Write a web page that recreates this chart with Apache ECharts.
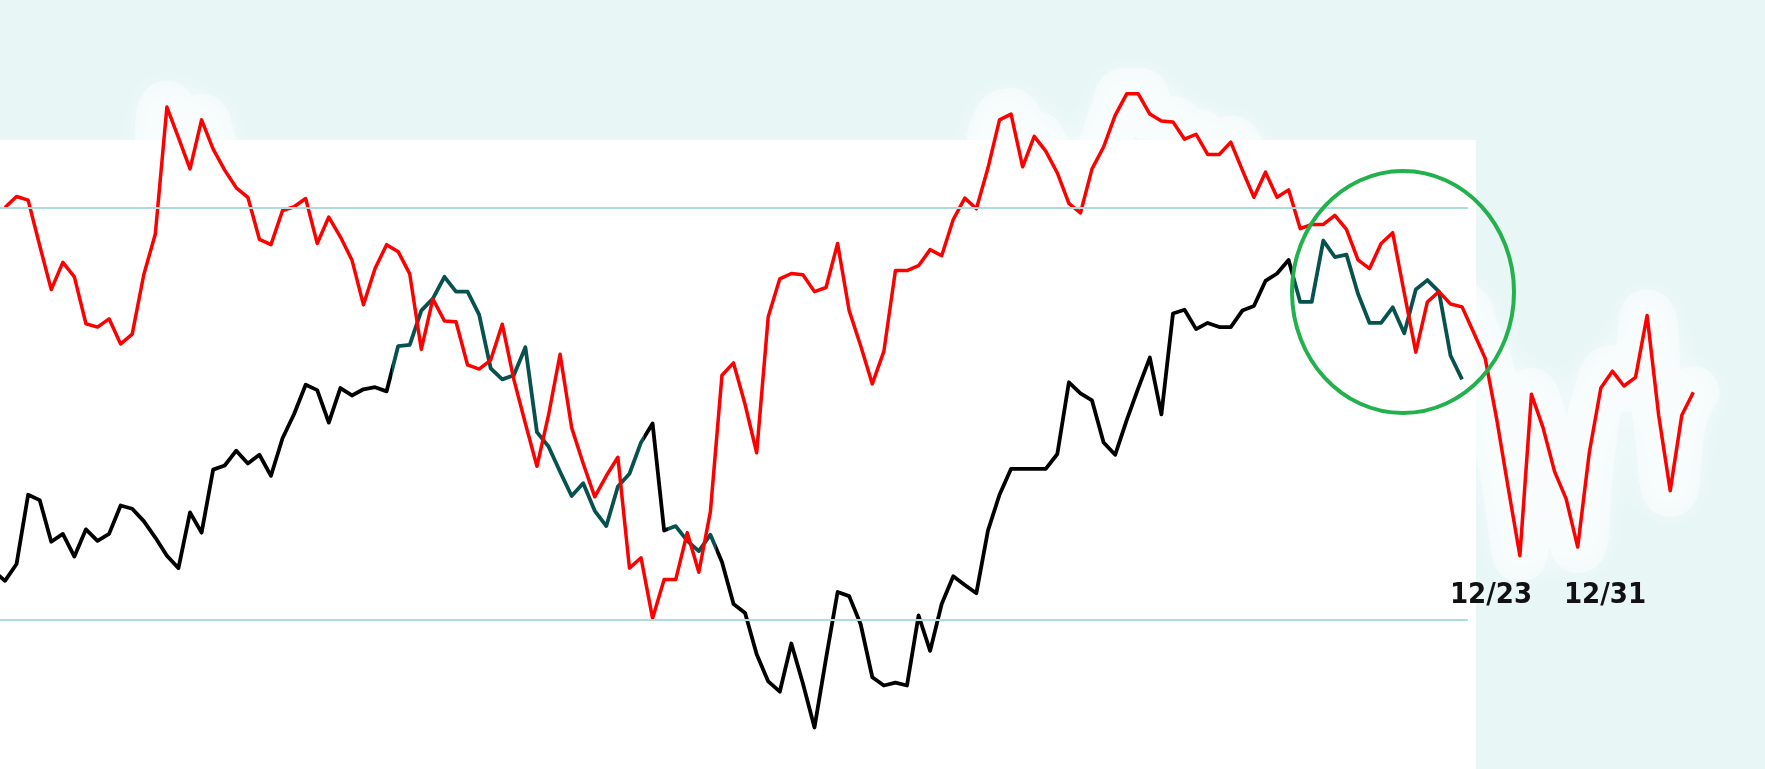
<!DOCTYPE html>
<html>
<head>
<meta charset="utf-8">
<script src="https://cdn.jsdelivr.net/npm/echarts@6.0.0/dist/echarts.min.js"></script>
<style>
  html, body { margin: 0; padding: 0; background: #e8f6f6; }
  #chart { width: 1765px; height: 769px; }
</style>
</head>
<body>
<div id="chart"></div>
<script>
// ---- data ----
const redValues = [
  100.1, 102.8, 101.9, 90.9, 80.2, 86.8, 83.3, 71.9, 71.1, 73.1,
  67.0, 69.4, 83.8, 93.7, 124.5, 117.1, 109.5, 121.4, 114.3, 109.2,
  104.9, 102.6, 92.4, 91.1, 99.4, 100.3, 102.3, 91.4, 97.8, 93.0,
  87.4, 76.5, 85.3, 91.1, 89.4, 84.0, 65.7, 77.9, 72.6, 72.4,
  61.9, 60.9, 63.1, 71.8, 58.4, 47.7, 37.3, 49.7, 64.5, 46.7,
  38.0, 29.9, 35.0, 39.5, 12.6, 15.1, 0.4, 9.8, 9.8, 21.2,
  11.6, 26.3, 59.4, 62.4, 52.3, 40.6, 73.6, 82.8, 84.1, 83.8,
  79.7, 80.7, 91.4, 75.1, 66.5, 57.3, 65.2, 84.8, 84.8, 86.0,
  89.9, 88.4, 97.2, 102.4, 99.8, 109.7, 121.4, 122.8, 110.0, 117.4,
  113.8, 108.5, 101.1, 98.8, 109.5, 114.8, 122.5, 127.7, 127.7, 122.8,
  121.1, 120.9, 116.7, 117.9, 113.0, 113.0, 116.0, 109.2, 102.6, 108.7,
  102.6, 104.4, 95.0, 96.0, 96.0, 98.2, 94.8, 87.4, 85.3, 91.4,
  94.0, 79.4, 65.0, 77.2, 79.7, 76.7, 76.0, 69.8, 63.5, 48.7,
  31.9, 15.6, 54.8, 46.7, 36.0, 29.4, 17.7, 40.6, 56.3, 60.4,
  56.8, 58.9, 73.9, 49.7, 31.4, 49.7, 55.3
];
const blackStart = -1;
const blackValues = [
  11.9, 9.5, 13.6, 30.4, 29.1, 19.0, 20.9, 15.4, 22.0, 19.2,
  20.9, 27.8, 27.0, 24.0, 20.0, 15.6, 12.6, 26.1, 21.2, 36.5,
  37.5, 41.1, 38.0, 40.1, 35.0, 44.1, 50.0, 57.1, 55.8, 47.9,
  56.3, 54.5, 56.0, 56.5, 55.5, 66.5, 66.8, 75.1, 78.0, 83.3,
  79.7, 79.7, 74.1, 61.1, 58.4, 59.4, 66.2, 45.6, 42.1, 36.0,
  30.1, 33.2, 26.5, 22.8, 32.4, 35.5, 43.1, 47.7, 21.7, 22.8,
  19.2, 16.7, 20.7, 14.1, 3.9, 1.7, -8.3, -14.9, -17.4, -5.7,
  -15.4, -26.1, -9.3, 6.8, 5.8, -1.1, -13.9, -15.9, -15.2, -15.9,
  1.1, -7.5, 3.9, 10.6, 8.5, 6.5, 21.7, 30.4, 36.7, 36.7,
  36.7, 36.7, 40.3, 57.7, 55.0, 53.3, 43.1, 40.1, 48.5, 56.3,
  63.7, 49.9, 74.4, 75.3, 70.6, 72.1, 71.1, 71.1, 75.1, 76.2,
  82.3, 84.1, 87.4, 77.2, 77.2, 92.1, 88.1, 88.7, 79.2, 72.1,
  72.1, 75.9, 69.6, 80.2, 82.5, 79.7, 64.2, 58.4
];
const refLevels = [100, 0];
const dateLabels = ['12/23', '12/31'];

// ---- layout ----
const X_MIN = -0.4324, X_MAX = 152.196;
const Y_MIN = -36.165, Y_MAX = 150.485;
const PANEL_RIGHT = 127.2, PANEL_TOP = 116.5, REF_END = 126.5;
const TEAL = '#07514f';

const redData = redValues.map((v, i) => [i, v]);
const blackData = blackValues.map((v, k) => [k + blackStart, v]);

const chart = echarts.init(document.getElementById('chart'), null, { renderer: 'canvas' });
chart.setOption({
  animation: false,
  backgroundColor: '#e8f6f6',
  grid: { left: 0, right: 0, top: 0, bottom: 0 },
  xAxis: { type: 'value', min: X_MIN, max: X_MAX, show: false },
  yAxis: { type: 'value', min: Y_MIN, max: Y_MAX, show: false },
  visualMap: {
    show: false, type: 'piecewise', seriesIndex: 2, dimension: 0,
    pieces: [
      { lt: 33.5, color: '#000000' },
      { gte: 33.5, lt: 55.3, color: TEAL },
      { gte: 55.3, lt: 57.3, color: '#000000' },
      { gte: 57.3, lt: 61.5, color: TEAL },
      { gte: 61.5, lt: 111.5, color: '#000000' },
      { gte: 111.5, color: TEAL }
    ]
  },
  series: [
    {
      name: 'glow', type: 'line', data: redData, z: 1, silent: true,
      symbol: 'none', smooth: 0.6,
      lineStyle: {
        color: 'rgba(255,255,255,0.45)', width: 52, cap: 'round', join: 'round',
        shadowColor: 'rgba(255,255,255,1)', shadowBlur: 30
      }
    },
    {
      name: 'panel', type: 'line', data: blackData, z: 2, silent: true,
      symbol: 'none', lineStyle: { opacity: 0, width: 0 },
      markArea: {
        silent: true,
        itemStyle: { color: '#ffffff' },
        data: [[{ coord: [X_MIN, Y_MIN] }, { coord: [PANEL_RIGHT, PANEL_TOP] }]]
      },
      markLine: {
        silent: true, symbol: 'none', label: { show: false },
        lineStyle: { color: '#acdcdc', width: 2.2, type: 'solid' },
        data: refLevels.map(v => [{ coord: [X_MIN, v] }, { coord: [REF_END, v] }])
      }
    },
    {
      name: 'black', type: 'line', data: blackData, z: 3,
      symbol: 'none', lineStyle: { width: 3.8, join: 'round' }
    },
    {
      name: 'red', type: 'line', data: redData, z: 4,
      symbol: 'none', lineStyle: { color: '#ff0000', width: 3.5, join: 'round' }
    }
  ],
  graphic: [
    {
      type: 'ellipse', z: 100,
      shape: { cx: 1403, cy: 292, rx: 111, ry: 121 },
      style: { fill: 'none', stroke: '#22b14c', lineWidth: 4 }
    },
    {
      type: 'text', z: 100, x: 1491, y: 595,
      style: { text: dateLabels[0], font: 'bold 29px "DejaVu Sans Condensed", "DejaVu Sans"', fill: '#111111', align: 'center', verticalAlign: 'middle' }
    },
    {
      type: 'text', z: 100, x: 1605, y: 595,
      style: { text: dateLabels[1], font: 'bold 29px "DejaVu Sans Condensed", "DejaVu Sans"', fill: '#111111', align: 'center', verticalAlign: 'middle' }
    }
  ]
});
</script>
</body>
</html>
